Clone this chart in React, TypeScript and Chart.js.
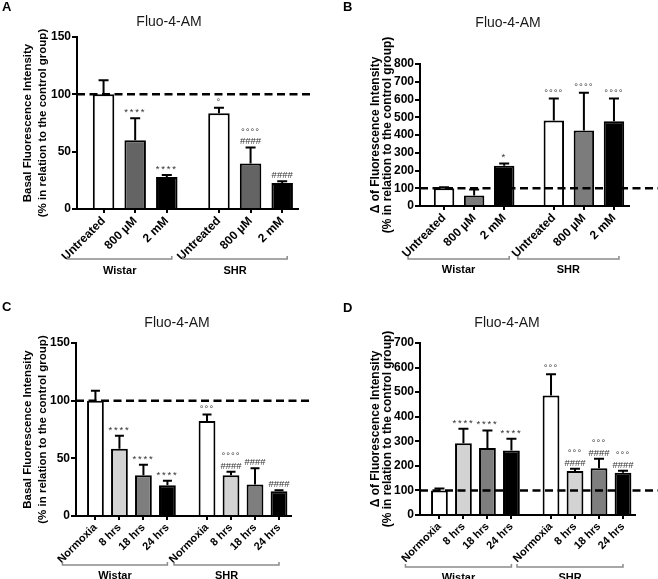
import React, { useEffect, useRef } from 'react';
import { Chart, registerables } from 'chart.js';
Chart.register(...registerables);

const FONT = '"Liberation Sans", Arial, sans-serif';
Chart.defaults.font.family = FONT;

// ---------- shared labels ----------
const groupNames = ['Wistar', 'SHR'];
const treatLabels = ['Untreated', '800 \u00b5M', '2 mM'];
const hypoxiaLabels = ['Normoxia', '8 hrs', '18 hrs', '24 hrs'];
const chartTitle = 'Fluo-4-AM';
const basalTitle = ['Basal Fluorescence Intensity', '(% in relation to the control group)'];
const deltaTitle = ['\u0394 of Fluorescence Intensity', '(% in relation to the control group)'];
const controlLevel = 100;

// ---------- Panel A ----------
const aWistar = [100, 60, 28];
const aWistarSem = [12.3, 19.2, 1.6];
const aShr = [83.6, 39.7, 22.6];
const aShrSem = [4.6, 14, 1.5];
const aWistarMarks = [[], ['****'], ['****']];
const aShrMarks = [['\u00b0'], ['####', '\u00b0\u00b0\u00b0\u00b0'], ['####']];
const aTicks = { max: 150, step: 50 };

// ---------- Panel B ----------
const bWistar = [100, 59.5, 227];
const bWistarSem = [5, 33.5, 13];
const bShr = [482, 426, 478];
const bShrSem = [123, 212, 127];
const bWistarMarks = [[], [], ['*']];
const bShrMarks = [['\u00b0\u00b0\u00b0\u00b0'], ['\u00b0\u00b0\u00b0\u00b0'], ['\u00b0\u00b0\u00b0\u00b0']];
const bTicks = { max: 800, step: 100 };

// ---------- Panel C ----------
const cWistar = [100, 58.3, 35.4, 26.7];
const cWistarSem = [8.7, 11.3, 9, 3.8];
const cShr = [82.4, 35.4, 27.3, 21.5];
const cShrSem = [5.5, 2.9, 14.2, 0.8];
const cWistarMarks = [[], ['****'], ['****'], ['****']];
const cShrMarks = [['\u00b0\u00b0\u00b0'], ['####', '\u00b0\u00b0\u00b0\u00b0'], ['####'], ['####']];
const cTicks = { max: 150, step: 50 };

// ---------- Panel D ----------
const dWistar = [100, 292, 273, 262];
const dWistarSem = [8, 59, 71, 48];
const dShr = [486, 179, 190, 172];
const dShrSem = [87, 9, 39, 8];
const dWistarMarks = [[], ['****'], ['****'], ['****']];
const dShrMarks = [['\u00b0\u00b0\u00b0'], ['####', '\u00b0\u00b0\u00b0'], ['####', '\u00b0\u00b0\u00b0'], ['####', '\u00b0\u00b0\u00b0']];
const dTicks = { max: 700, step: 100 };

const treatColors = ['#ffffff', '#646464', '#000000'];
const treatColorsB = ['#ffffff', '#7c7c7c', '#000000'];
const hypoxiaColors = ['#ffffff', '#d3d3d3', '#7e7e7e', '#000000'];

const GROUP_GAP = 1.65;

type Cfg = {
  letter: string; letterX: number; letterY: number;
  labels: string[]; colors: string[];
  wistar: number[]; wistarSem: number[]; shr: number[]; shrSem: number[];
  wistarMarks: string[][]; shrMarks: string[][];
  yMax: number; yStep: number;
  yTitle: string[]; yTitleSize: number; yTitleLH: number; yTitleX: number;
  left: number; top: number; right: number; bottom: number; xMin: number;
  tickFont: number; titleX: number; titleY: number;
  bracketY: number; groupY: number; bracketL: number; bracketR: number;
  dashRight: number; capHalf: number; barPct: number;
  W: number; H: number; posX: number; posY: number;
};

function spacingFor(t: string) {
  if (t.indexOf('*') >= 0) return '1.8px';
  if (t.indexOf('#') >= 0) return '0px';
  return '1px';
}

function Panel({ cfg }: { cfg: Cfg }) {
  const ref = useRef<HTMLCanvasElement | null>(null);
  useEffect(() => {
    const c = cfg;
    const n = c.labels.length;
    const wPos = c.labels.map((_, i) => i);
    const sPos = c.labels.map((_, j) => n - 1 + GROUP_GAP + j);
    const positions = [...wPos, ...sPos];
    const values = [...c.wistar, ...c.shr];
    const sems = [...c.wistarSem, ...c.shrSem];
    const marks = [...c.wistarMarks, ...c.shrMarks];
    const allLabels = [...c.labels, ...c.labels];
    const xMax = positions[positions.length - 1] + 0.5;

    const overlay = {
      id: 'overlay',
      afterDatasetsDraw(chart: any) {
        const { ctx, chartArea } = chart;
        const y = chart.scales.y;
        const meta = chart.getDatasetMeta(0);
        ctx.save();
        meta.data.forEach((bar: any, i: number) => {
          const cx = bar.x;
          const base = y.getPixelForValue(values[i]);
          const top = y.getPixelForValue(values[i] + sems[i]);
          ctx.strokeStyle = '#000';
          ctx.lineWidth = 2;
          ctx.lineCap = 'butt';
          ctx.beginPath();
          ctx.moveTo(cx, base);
          ctx.lineTo(cx, top);
          ctx.moveTo(cx - c.capHalf, top);
          ctx.lineTo(cx + c.capHalf, top);
          ctx.stroke();
          ctx.fillStyle = '#333';
          ctx.font = `9.5px ${FONT}`;
          ctx.textAlign = 'center';
          ctx.textBaseline = 'alphabetic';
          marks[i].forEach((t, k) => {
            try { (ctx as any).letterSpacing = spacingFor(t); } catch (e) {}
            ctx.fillText(t, cx, top - 3 - k * 9.5);
          });
          try { (ctx as any).letterSpacing = '0px'; } catch (e) {}
        });
        const yc = y.getPixelForValue(controlLevel);
        ctx.strokeStyle = '#000';
        ctx.lineWidth = 2.5;
        ctx.setLineDash([8, 4.5]);
        ctx.beginPath();
        ctx.moveTo(chartArea.left, yc);
        ctx.lineTo(c.dashRight, yc);
        ctx.stroke();
        ctx.setLineDash([]);
        ctx.restore();
      },
      afterDraw(chart: any) {
        const { ctx } = chart;
        const x = chart.scales.x;
        ctx.save();
        ctx.fillStyle = '#000';
        ctx.font = `bold 13px ${FONT}`;
        ctx.textAlign = 'left';
        ctx.textBaseline = 'alphabetic';
        ctx.fillText(c.letter, c.letterX, c.letterY);
        ctx.fillStyle = '#1a1a1a';
        ctx.font = `14px ${FONT}`;
        ctx.textAlign = 'center';
        ctx.textBaseline = 'middle';
        ctx.fillText(chartTitle, c.titleX, c.titleY);
        const groupsPos = [wPos, sPos];
        groupsPos.forEach((g, gi) => {
          const x1 = x.getPixelForValue(g[0]) + c.bracketL;
          const x2 = x.getPixelForValue(g[g.length - 1]) + c.bracketR;
          ctx.strokeStyle = '#8a8a8a';
          ctx.lineWidth = 1.5;
          ctx.beginPath();
          ctx.moveTo(x1, c.bracketY - 3);
          ctx.lineTo(x1, c.bracketY);
          ctx.lineTo(x2, c.bracketY);
          ctx.lineTo(x2, c.bracketY - 3);
          ctx.stroke();
          ctx.fillStyle = '#000';
          ctx.font = `bold 11px ${FONT}`;
          ctx.fillText(groupNames[gi], (x1 + x2) / 2, c.groupY);
        });
        ctx.restore();
      },
    };

    const chart = new Chart(ref.current as HTMLCanvasElement, {
      type: 'bar',
      data: {
        datasets: [{
          data: positions.map((px, i) => ({ x: px, y: values[i] })) as any,
          backgroundColor: [...c.colors, ...c.colors],
          borderColor: '#000',
          borderWidth: 2,
          barPercentage: c.barPct,
          categoryPercentage: 1,
        }],
      },
      options: {
        responsive: false,
        animation: false,
        events: [],
        layout: { padding: { left: 0, top: c.top, right: c.W - c.right, bottom: 0 } },
        plugins: { legend: { display: false }, tooltip: { enabled: false }, title: { display: false } },
        scales: {
          x: {
            type: 'linear',
            min: c.xMin,
            max: xMax,
            offset: false,
            afterBuildTicks: (s: any) => { s.ticks = positions.map((v) => ({ value: v })); },
            afterFit: (s: any) => { s.height = c.H - c.bottom; s.paddingLeft = 0; s.paddingRight = 0; },
            ticks: {
              autoSkip: false,
              minRotation: 45,
              maxRotation: 45,
              padding: 1,
              color: '#000',
              font: { size: c.tickFont, weight: 'bold' },
              callback: (_v: any, i: number) => allLabels[i],
            },
            grid: { display: true, offset: false, drawOnChartArea: false, drawTicks: true, tickLength: 4, color: '#000', lineWidth: 2 },
            border: { display: true, color: '#000', width: 2 },
          } as any,
          y: {
            min: 0,
            max: c.yMax,
            afterFit: (s: any) => { s.width = c.left; s.paddingTop = 0; s.paddingBottom = 0; },
            ticks: { stepSize: c.yStep, padding: 1, color: '#000', font: { size: 12, weight: 'bold' } },
            grid: { display: true, drawOnChartArea: false, drawTicks: true, tickLength: 5, color: '#000', lineWidth: 2 },
            border: { display: true, color: '#000', width: 2 },
            title: {
              display: true,
              text: c.yTitle,
              color: '#000',
              font: { size: c.yTitleSize, weight: 'bold', lineHeight: `${c.yTitleLH}px` },
              padding: { top: c.yTitleX - c.yTitleLH / 2, bottom: 0 },
            },
          } as any,
        },
      },
      plugins: [overlay],
    });
    return () => chart.destroy();
  }, [cfg]);
  return (
    <canvas
      ref={ref}
      width={cfg.W}
      height={cfg.H}
      style={{ position: 'absolute', left: cfg.posX, top: cfg.posY, width: cfg.W, height: cfg.H }}
    />
  );
}

const panelA: Cfg = {
  letter: 'A', letterX: 2, letterY: 11,
  labels: treatLabels, colors: treatColors,
  wistar: aWistar, wistarSem: aWistarSem, shr: aShr, shrSem: aShrSem,
  wistarMarks: aWistarMarks, shrMarks: aShrMarks,
  yMax: aTicks.max, yStep: aTicks.step,
  yTitle: basalTitle, yTitleSize: 11.5, yTitleLH: 15, yTitleX: 28,
  left: 77, top: 37, right: 298, bottom: 209, xMin: -0.84,
  tickFont: 12, titleX: 169, titleY: 22,
  bracketY: 259, groupY: 271, bracketL: -36, bracketR: 5,
  dashRight: 311, capHalf: 5, barPct: 0.68,
  W: 329, H: 290, posX: 0, posY: 0,
};

const panelB: Cfg = {
  letter: 'B', letterX: 14, letterY: 11,
  labels: treatLabels, colors: treatColorsB,
  wistar: bWistar, wistarSem: bWistarSem, shr: bShr, shrSem: bShrSem,
  wistarMarks: bWistarMarks, shrMarks: bShrMarks,
  yMax: bTicks.max, yStep: bTicks.step,
  yTitle: deltaTitle, yTitleSize: 12, yTitleLH: 12, yTitleX: 47,
  left: 91, top: 64, right: 300, bottom: 206, xMin: -0.8,
  tickFont: 12, titleX: 179, titleY: 23,
  bracketY: 259, groupY: 270, bracketL: -36, bracketR: 5,
  dashRight: 329, capHalf: 5, barPct: 0.68,
  W: 329, H: 290, posX: 329, posY: 0,
};

const panelC: Cfg = {
  letter: 'C', letterX: 2, letterY: 21,
  labels: hypoxiaLabels, colors: hypoxiaColors,
  wistar: cWistar, wistarSem: cWistarSem, shr: cShr, shrSem: cShrSem,
  wistarMarks: cWistarMarks, shrMarks: cShrMarks,
  yMax: cTicks.max, yStep: cTicks.step,
  yTitle: basalTitle, yTitleSize: 11.5, yTitleLH: 15, yTitleX: 28,
  left: 76, top: 53, right: 291, bottom: 226, xMin: -0.81,
  tickFont: 11, titleX: 177, titleY: 33,
  bracketY: 275, groupY: 286, bracketL: -33, bracketR: 0,
  dashRight: 313, capHalf: 4.5, barPct: 0.7,
  W: 329, H: 289, posX: 0, posY: 290,
};

const panelD: Cfg = {
  letter: 'D', letterX: 14, letterY: 22,
  labels: hypoxiaLabels, colors: hypoxiaColors,
  wistar: dWistar, wistarSem: dWistarSem, shr: dShr, shrSem: dShrSem,
  wistarMarks: dWistarMarks, shrMarks: dShrMarks,
  yMax: dTicks.max, yStep: dTicks.step,
  yTitle: deltaTitle, yTitleSize: 12, yTitleLH: 12, yTitleX: 47,
  left: 91, top: 53, right: 306, bottom: 225, xMin: -0.81,
  tickFont: 11, titleX: 178, titleY: 33,
  bracketY: 277, groupY: 288, bracketL: -34, bracketR: 0,
  dashRight: 329, capHalf: 5, barPct: 0.7,
  W: 329, H: 289, posX: 329, posY: 290,
};

export default function App() {
  return (
    <div style={{ position: 'fixed', left: 0, top: 0, width: 658, height: 579, background: '#fff', overflow: 'hidden' }}>
      <Panel cfg={panelA} />
      <Panel cfg={panelB} />
      <Panel cfg={panelC} />
      <Panel cfg={panelD} />
    </div>
  );
}
